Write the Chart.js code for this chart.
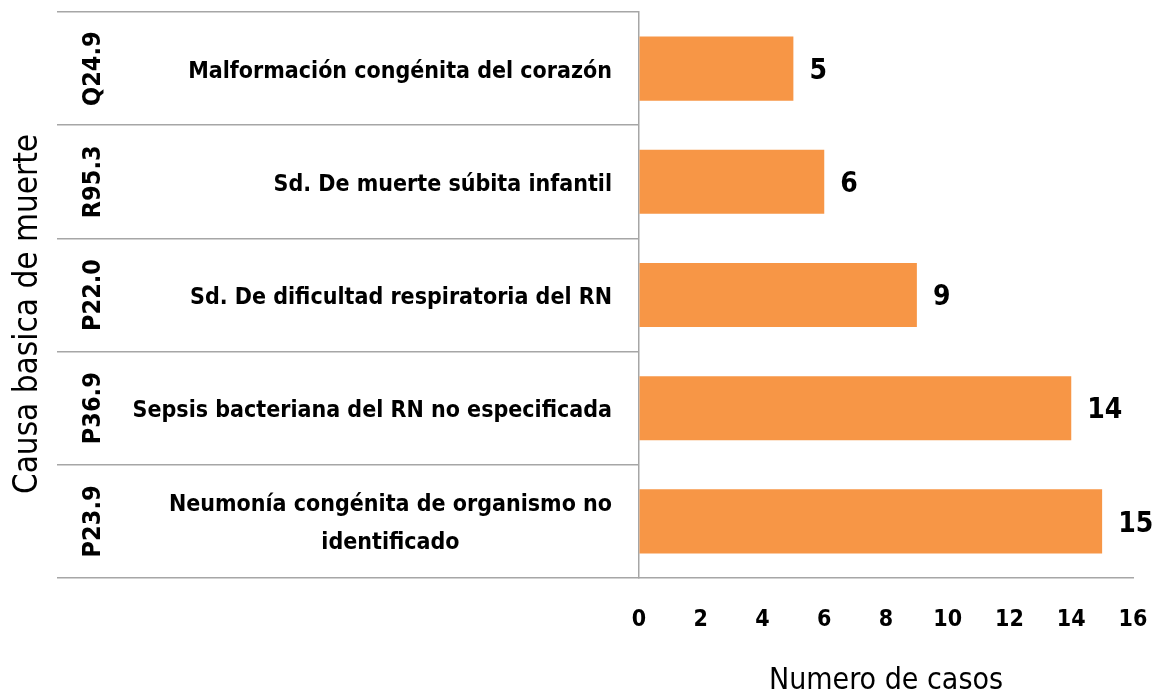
<!DOCTYPE html>
<html>
<head>
<meta charset="utf-8">
<script src="https://cdn.jsdelivr.net/npm/chart.js@4"></script>
<style>
  html, body { margin: 0; padding: 0; background: #fff; }
  #wrap { width: 1154px; height: 696px; }
</style>
</head>
<body>
<div id="wrap"><canvas id="canvas"></canvas></div>
<script>
var codes = ['Q24.9', 'R95.3', 'P22.0', 'P36.9', 'P23.9'];
var causes = [
  ['Malformación congénita del corazón'],
  ['Sd. De muerte súbita infantil'],
  ['Sd. De dificultad respiratoria del RN'],
  ['Sepsis bacteriana del RN no especificada'],
  ['Neumonía congénita de organismo no', 'identificado']
];
var casos = [5, 6, 9, 14, 15];
var xMin = 0, xMax = 16, xStep = 2;

var narrow = "'Liberation Sans Narrow', 'DejaVu Sans Condensed', 'Liberation Sans', sans-serif";
var gridGrey = '#a6a6a6';

// codes, descriptions, value labels and y title
var tablePlugin = {
  id: 'tablePlugin',
  afterDraw: function (chart) {
    var ctx = chart.ctx;
    var yScale = chart.scales.y;
    var area = chart.chartArea;
    ctx.save();
    ctx.fillStyle = '#000';

    codes.forEach(function (c, i) {
      var y = yScale.getPixelForValue(i);
      ctx.save();
      ctx.translate(93, y);
      ctx.rotate(-Math.PI / 2);
      ctx.font = 'bold 25px ' + narrow;
      ctx.textAlign = 'center';
      ctx.textBaseline = 'middle';
      ctx.fillText(c, 0, 0);
      ctx.restore();

      var lines = causes[i];
      ctx.font = 'bold 23px ' + narrow;
      ctx.textBaseline = 'middle';
      var widest = 0;
      lines.forEach(function (l) { widest = Math.max(widest, ctx.measureText(l).width); });
      var cx = area.left - 27 - widest / 2;
      var lh = 38;
      var top = y - (lines.length - 1) * lh / 2;
      ctx.textAlign = 'center';
      lines.forEach(function (l, k) { ctx.fillText(l, cx, top + k * lh + 3); });
    });

    var meta = chart.getDatasetMeta(0);
    ctx.font = 'bold 28px ' + narrow;
    ctx.textAlign = 'left';
    ctx.textBaseline = 'middle';
    meta.data.forEach(function (bar, i) {
      ctx.fillText(String(casos[i]), bar.x + 16, bar.y + 3);
    });

    ctx.save();
    ctx.translate(28, (area.top + area.bottom) / 2 + 19);
    ctx.rotate(-Math.PI / 2);
    ctx.font = '33px ' + narrow;
    ctx.textAlign = 'center';
    ctx.textBaseline = 'middle';
    ctx.fillText('Causa basica de muerte', 0, 0);
    ctx.restore();

    ctx.restore();
  }
};

var ctx = document.getElementById('canvas').getContext('2d');
var chart = new Chart(ctx, {
  type: 'bar',
  data: {
    labels: codes,
    datasets: [{
      label: 'Numero de casos',
      data: casos,
      backgroundColor: '#f79646',
      borderWidth: 0,
      barPercentage: 0.566,
      categoryPercentage: 1
    }]
  },
  options: {
    indexAxis: 'y',
    responsive: true,
    maintainAspectRatio: false,
    animation: false,
    layout: { padding: { left: 10, top: 12, right: 21, bottom: 0 } },
    plugins: {
      legend: { display: false },
      tooltip: { enabled: false }
    },
    scales: {
      x: {
        min: xMin,
        max: xMax,
        ticks: {
          stepSize: xStep,
          padding: 0,
          color: '#000',
          font: { family: narrow, size: 23, weight: 'bold' }
        },
        grid: {
          display: true,
          drawOnChartArea: false,
          drawTicks: true,
          tickLength: 28,
          color: 'rgba(0,0,0,0)'
        },
        border: { display: true, color: gridGrey, width: 1.5 },
        title: {
          display: true,
          text: 'Numero de casos',
          color: '#000',
          padding: { top: 0, bottom: -3 },
          font: { family: narrow, size: 30 }
        },
        afterFit: function (scale) { scale.height = 118; }
      },
      y: {
        ticks: { display: false },
        grid: {
          display: true,
          offset: true,
          drawOnChartArea: false,
          drawTicks: true,
          tickLength: 582,
          color: gridGrey,
          lineWidth: 1.5
        },
        border: { display: true, color: gridGrey, width: 1.5 },
        afterFit: function (scale) { scale.width = 629; }
      }
    }
  },
  plugins: [tablePlugin]
});
</script>
</body>
</html>
